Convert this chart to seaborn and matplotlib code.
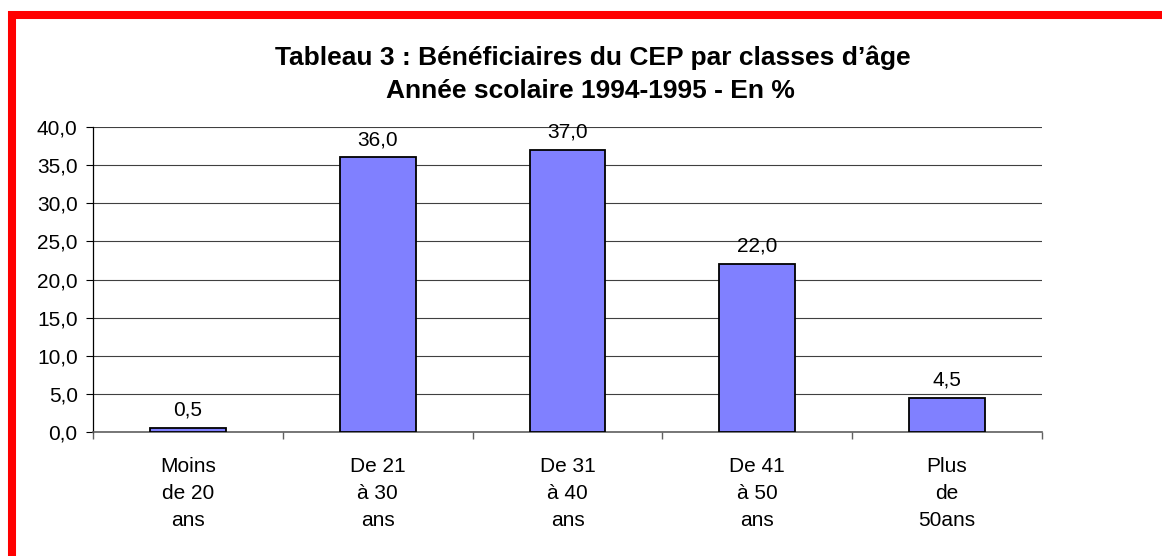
import matplotlib
matplotlib.use("Agg")
import matplotlib.pyplot as plt
import seaborn as sns
import pandas as pd
from matplotlib.lines import Line2D
from matplotlib.ticker import FixedLocator

categories = ["Moins\nde 20\nans", "De 21\nà 30\nans", "De 31\nà 40\nans", "De 41\nà 50\nans", "Plus\nde\n50ans"]
values = [0.5, 36.0, 37.0, 22.0, 4.5]
yticks = [0, 5, 10, 15, 20, 25, 30, 35, 40]
title_lines = ["Tableau 3 : Bénéficiaires du CEP par classes d\u2019âge",
               "Année scolaire 1994-1995 - En %"]

sns.set_theme(style="white")
plt.rcParams['font.family'] = ['Liberation Sans', 'DejaVu Sans']
plt.rcParams['text.color'] = 'black'
plt.rcParams['xtick.color'] = 'black'
plt.rcParams['ytick.color'] = 'black'

fig = plt.figure(figsize=(11.62, 5.56), dpi=100)
ax = fig.add_axes([93/1162, 124/556, (1042-93)/1162, (432-127)/556])

df = pd.DataFrame({"cat": categories, "val": values})
sns.barplot(data=df, x="cat", y="val", color="#8080FF", saturation=1,
            edgecolor="black", linewidth=1.3, width=0.4, ax=ax, zorder=3)

ax.set_ylim(0, 40)
ax.set_xlim(-0.5, 4.5)
ax.set_yticks(yticks)
ax.set_yticklabels([f"{v:.1f}".replace(".", ",") for v in yticks])
ax.grid(axis="y", color="#404040", linewidth=0.8, zorder=0)
ax.set_axisbelow(True)
ax.set_xlabel("")
ax.set_ylabel("")

for s in ["top", "right"]:
    ax.spines[s].set_visible(False)
ax.spines["left"].set_color("black")
ax.spines["left"].set_linewidth(0.9)
ax.spines["bottom"].set_color("#606060")
ax.spines["bottom"].set_linewidth(1.2)

ax.tick_params(axis="y", which="major", direction="out", length=5, width=0.8,
               color="black", left=True, labelsize=15, labelcolor="black", pad=6)
ax.tick_params(axis="x", which="major", length=0, labelsize=15, labelcolor="black", pad=18)
ax.xaxis.set_minor_locator(FixedLocator([-0.5, 0.5, 1.5, 2.5, 3.5, 4.5]))
ax.tick_params(axis="x", which="minor", direction="out", length=5, width=1.0,
               color="#606060", bottom=True)
for lab in ax.get_xticklabels():
    lab.set_linespacing(1.52)

ax.bar_label(ax.containers[0], labels=[f"{v:.1f}".replace(".", ",") for v in values],
             padding=6, fontsize=15, color="black")

fig.text(593/1162, 1 - 65/556, title_lines[0], ha="center", va="baseline",
         fontsize=19, fontweight="bold", color="black")
fig.text(590/1162, 1 - 98/556, title_lines[1], ha="center", va="baseline",
         fontsize=19, fontweight="bold", color="black")

fig.add_artist(Line2D([8/1162, 1], [1 - 15/556, 1 - 15/556], color="#FF0000",
                      linewidth=5.8, solid_capstyle="butt"))
fig.add_artist(Line2D([12/1162, 12/1162], [0, 1 - 11/556], color="#FF0000",
                      linewidth=5.8, solid_capstyle="butt"))

fig.savefig("out.png", dpi=100)
